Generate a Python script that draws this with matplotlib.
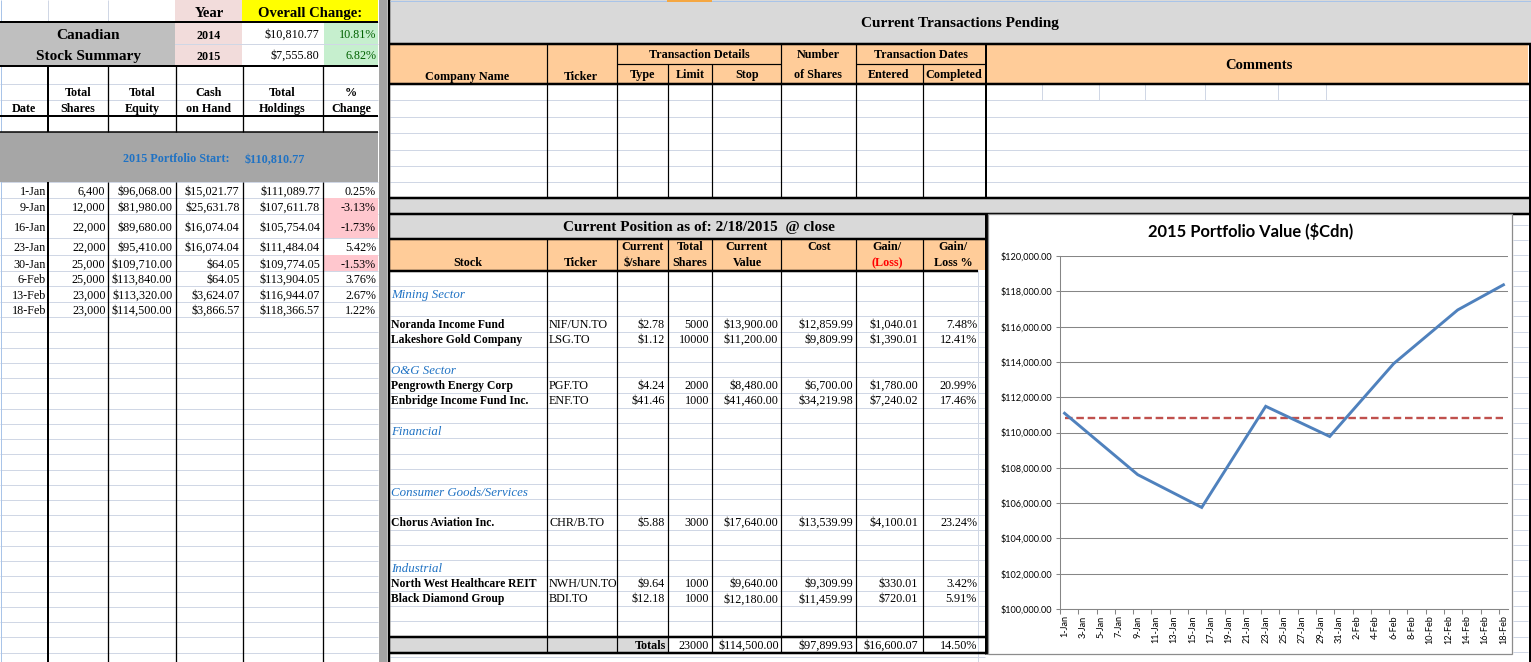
import numpy as np
import pandas as pd
import matplotlib
matplotlib.use('Agg')
import matplotlib.pyplot as plt
import matplotlib.dates as mdates
from matplotlib.patches import Rectangle
from matplotlib.ticker import FuncFormatter, FixedLocator

# ---------------- data ----------------
years = ['2014', '2015']
overall_change = [10810.77, 7555.80]
overall_pct = [10.81, 6.82]
portfolio_start = 110810.77

dates = ['1-Jan', '9-Jan', '16-Jan', '23-Jan', '30-Jan', '6-Feb', '13-Feb', '18-Feb']
total_shares = [6400, 12000, 22000, 22000, 25000, 25000, 23000, 23000]
total_equity = [96068.00, 81980.00, 89680.00, 95410.00, 109710.00, 113840.00, 113320.00, 114500.00]
cash_on_hand = [15021.77, 25631.78, 16074.04, 16074.04, 64.05, 64.05, 3624.07, 3866.57]
total_holdings = [111089.77, 107611.78, 105754.04, 111484.04, 109774.05, 113904.05, 116944.07, 118366.57]
pct_change = [0.25, -3.13, -1.73, 5.42, -1.53, 3.76, 2.67, 1.22]

sectors = ['Mining Sector', 'O&G Sector', 'Financial', 'Consumer Goods/Services', 'Industrial']
sector_rows = [1, 6, 10, 14, 19]
stocks = ['Noranda Income Fund', 'Lakeshore Gold Company', 'Pengrowth Energy Corp',
          'Enbridge Income Fund Inc.', 'Chorus Aviation Inc.', 'North West Healthcare REIT',
          'Black Diamond Group']
stock_rows = [3, 4, 7, 8, 16, 20, 21]
tickers = ['NIF/UN.TO', 'LSG.TO', 'PGF.TO', 'ENF.TO', 'CHR/B.TO', 'NWH/UN.TO', 'BDI.TO']
price = [2.78, 1.12, 4.24, 41.46, 5.88, 9.64, 12.18]
shares = [5000, 10000, 2000, 1000, 3000, 1000, 1000]
value = [13900.00, 11200.00, 8480.00, 41460.00, 17640.00, 9640.00, 12180.00]
cost = [12859.99, 9809.99, 6700.00, 34219.98, 13539.99, 9309.99, 11459.99]
gain = [1040.01, 1390.01, 1780.00, 7240.02, 4100.01, 330.01, 720.01]
gain_pct = [7.48, 12.41, 20.99, 17.46, 23.24, 3.42, 5.91]
totals = ['23000', '$114,500.00', '$97,899.93', '$16,600.07', '14.50%']

tick_labels = ['1-Jan', '3-Jan', '5-Jan', '7-Jan', '9-Jan', '11-Jan', '13-Jan', '15-Jan',
               '17-Jan', '19-Jan', '21-Jan', '23-Jan', '25-Jan', '27-Jan', '29-Jan', '31-Jan',
               '2-Feb', '4-Feb', '6-Feb', '8-Feb', '10-Feb', '12-Feb', '14-Feb', '16-Feb', '18-Feb']

SERIF = 'Liberation Serif'
W, H = 1531, 662
GRID = '#d0d7e5'
ORANGE = '#ffcc99'
LGRAY = '#d9d9d9'
BLUE = '#1f72c4'


def money(v):
    return f'${v:,.2f}'


fig = plt.figure(figsize=(W / 100, H / 100), dpi=100)
ax = fig.add_axes([0, 0, 1, 1])
ax.set_xlim(0, W)
ax.set_ylim(H, 0)
ax.axis('off')


def rect(x0, y0, x1, y1, c, z=2):
    ax.add_patch(Rectangle((x0, y0), x1 - x0, y1 - y0, facecolor=c, edgecolor='none', zorder=z))


def hl(y, x0, x1, px=1, c='black', z=3):
    ax.plot([x0, x1], [y, y], color=c, lw=px * 0.72, zorder=z, solid_capstyle='butt')


def vl(x, y0, y1, px=1, c='black', z=3):
    ax.plot([x, x], [y0, y1], color=c, lw=px * 0.72, zorder=z, solid_capstyle='butt')


def txt(x, y, s, size=8.7, ha='left', bold=False, italic=False, c='black', fam=SERIF):
    ax.text(x, y + 0.46 * size, s, fontsize=size, ha=ha, va='baseline',
            fontweight='bold' if bold else 'normal',
            fontstyle='italic' if italic else 'normal',
            color=c, family=fam, zorder=5)


# ================= LEFT PANEL =================
left_rows = [182, 198, 214, 238, 255, 271, 286, 302, 317]
lg = [22, 44, 66, 84, 100, 116, 132] + left_rows + list(np.arange(317 + 15.25, H, 15.25))
for y in lg:
    hl(y, 0, 378, 1, GRID, 1)
for x in [48, 108]:
    vl(x, 0, 22, 1, GRID, 1)
vl(0.5, 0, H, 1, '#a9c4e8', 1)

rect(175, 0, 242, 22, '#f2dcdb')
rect(242, 0, 378, 22, '#ffff00')
rect(0, 22, 175, 66, '#bfbfbf')
rect(175, 22, 242, 43.5, '#f2dcdb')
rect(175, 44.5, 242, 66, '#f2dcdb')
rect(323.5, 22, 378, 43.5, '#c6efce')
rect(323.5, 44.5, 378, 66, '#c6efce')
rect(0, 132, 378, 182, '#a6a6a6')
for i, p in enumerate(pct_change):
    if p < 0:
        rect(323.5, left_rows[i], 378, left_rows[i + 1], '#ffc7ce')

for y in [22, 66, 116]:
    hl(y, 0, 378, 2)
hl(132, 0, 378, 1.5)
for x, w in [(48, 2), (108, 1.3), (175.5, 1.3), (242.5, 1.3), (323, 1.3)]:
    vl(x, 66, 132, w)
    vl(x, 182, H, w)
rect(379, 0, 387, H, '#a5a5a5', 3)
vl(388.5, 0, H, 2.5)

txt(209, 12, 'Year', 10.5, 'center', True)
txt(310, 12, 'Overall Change:', 10.5, 'center', True)
txt(88, 34, 'Canadian', 11, 'center', True)
txt(88, 55, 'Stock Summary', 11, 'center', True)
for i, yy in enumerate([34, 55]):
    txt(209, yy + 1, years[i], 8.7, 'center', True)
    txt(319, yy, money(overall_change[i]), 8.7, 'right')
    txt(376, yy, f'{overall_pct[i]:.2f}%', 8.7, 'right', c='#006100')

txt(24, 108, 'Date', 8.7, 'center', True)
for x, a, b in [(78, 'Total', 'Shares'), (142, 'Total', 'Equity'), (209, 'Cash', 'on Hand'),
                (282, 'Total', 'Holdings'), (351, '%', 'Change')]:
    txt(x, 92, a, 8.7, 'center', True)
    txt(x, 108, b, 8.7, 'center', True)
txt(176, 158, '2015 Portfolio Start:', 8.7, 'center', True, c=BLUE)
txt(275, 159, money(portfolio_start), 8.7, 'center', True, c=BLUE)

for i in range(len(dates)):
    y = (left_rows[i] + left_rows[i + 1]) / 2 + 0.5
    txt(46, y, dates[i], 8.7, 'right')
    txt(105.5, y, f'{total_shares[i]:,}', 8.7, 'right')
    txt(172.5, y, money(total_equity[i]), 8.7, 'right')
    txt(239.5, y, money(cash_on_hand[i]), 8.7, 'right')
    txt(320, y, money(total_holdings[i]), 8.7, 'right')
    txt(376, y, f'{pct_change[i]:.2f}%', 8.7, 'right')

# ================= MIDDLE TOP: transactions pending =================
rect(390, 0, W, 43, LGRAY)
hl(0.5, 390, W, 1, '#a9c4e8', 3)
rect(667, 0, 712, 2, '#f5a742', 3)
txt(960, 22, 'Current Transactions Pending', 11, 'center', True)
hl(43.5, 389, W, 2.5)
rect(390, 44, 1528, 83, ORANGE)
hl(83.5, 389, W, 2.5)
for y in [100, 117, 133, 150, 166, 182]:
    hl(y, 390, 1528, 1, GRID, 1)
for x in [1042, 1099, 1145, 1205, 1278, 1326]:
    vl(x, 84, 100, 1, GRID, 1)
for x in [546.5, 617, 781, 856]:
    vl(x, 44, 197, 1.2)
vl(986, 44, 197, 2)
for x in [668, 712, 923]:
    vl(x, 64, 197, 1.2)
hl(64, 617, 781, 1.2)
hl(64, 856, 986, 1.2)
vl(1529.5, 43, H, 3)

txt(467, 76, 'Company Name', 8.7, 'center', True)
txt(581, 76, 'Ticker', 8.7, 'center', True)
txt(699, 54, 'Transaction Details', 8.7, 'center', True)
txt(642, 74, 'Type', 8.7, 'center', True)
txt(690, 74, 'Limit', 8.7, 'center', True)
txt(747, 74, 'Stop', 8.7, 'center', True)
txt(818, 54, 'Number', 8.7, 'center', True)
txt(818, 74, 'of Shares', 8.7, 'center', True)
txt(921, 54, 'Transaction Dates', 8.7, 'center', True)
txt(889, 74, 'Entered', 8.7, 'center', True)
txt(954, 74, 'Completed', 8.7, 'center', True)
txt(1259, 64, 'Comments', 10.5, 'center', True)

hl(197.5, 389, W, 2.5)
rect(390, 198.5, W, 212.5, LGRAY)
hl(213.5, 389, W, 2.5)

# ================= MIDDLE BOTTOM: current position =================
rect(390, 214, 985, 238, LGRAY)
txt(699, 226, 'Current Position as of: 2/18/2015  @ close', 11, 'center', True)
hl(238.5, 389, 986, 2.5)
rect(390, 239, 985, 270, ORANGE)
hl(270.5, 389, 978, 2.5)
row0, rh = 270.5, 15.25
for k in range(1, 24):
    hl(row0 + k * rh, 390, 985, 1, GRID, 1)
hl(657, 390, 985, 1, GRID, 1)
vl(978, 270, H, 1, GRID, 1)
pos_cols = [547, 617, 668, 712, 781, 856, 923]
for x in pos_cols:
    vl(x, 238, 653, 1.2)
rect(390, 637, 668, 652, LGRAY)
hl(637, 389, 986, 2.5)
hl(653, 389, 986, 2.5)
vl(986, 213, 654, 3)

txt(468, 262, 'Stock', 8.7, 'center', True)
txt(581, 262, 'Ticker', 8.7, 'center', True)
txt(642, 246, 'Current', 8.7, 'center', True)
txt(642, 262, '$/share', 8.7, 'center', True)
txt(690, 246, 'Total', 8.7, 'center', True)
txt(690, 262, 'Shares', 8.7, 'center', True)
txt(747, 246, 'Current', 8.7, 'center', True)
txt(747, 262, 'Value', 8.7, 'center', True)
txt(819, 246, 'Cost', 8.7, 'center', True)
txt(887, 246, 'Gain/', 8.7, 'center', True)
txt(887, 262, '(Loss)', 8.7, 'center', True, c='#ff0000')
txt(953, 246, 'Gain/', 8.7, 'center', True)
txt(953, 262, 'Loss %', 8.7, 'center', True)

for s, r in zip(sectors, sector_rows):
    txt(391, row0 + (r + 0.5) * rh, s, 9.3, italic=True, c=BLUE)
for i, r in enumerate(stock_rows):
    y = row0 + (r + 0.5) * rh
    txt(391, y, stocks[i], 8.4, bold=True)
    txt(549, y, tickers[i], 8.7)
    txt(665, y, money(price[i]), 8.7, 'right')
    txt(709, y, f'{shares[i]}', 8.7, 'right')
    txt(778, y, money(value[i]), 8.7, 'right')
    txt(853, y, money(cost[i]), 8.7, 'right')
    txt(918, y, money(gain[i]), 8.7, 'right')
    txt(977, y, f'{gain_pct[i]:.2f}%', 8.7, 'right')
yt = 645
txt(666, yt, 'Totals', 8.7, 'right', True)
for x, s in zip([709, 779, 853, 918, 977], totals):
    txt(x, yt, s, 8.7, 'right')

# ================= CHART =================
for k in range(-3, 26):
    hl(row0 + k * rh, 1513, 1528, 1, GRID, 1)
ax.add_patch(Rectangle((988, 214), 1512 - 988, 654 - 214, facecolor='white',
                       edgecolor='#8c8c8c', lw=0.9, zorder=4))
txt(1251, 232, '2015 Portfolio Value ($Cdn)', 11.9, 'center', True, fam='Lato')

x_dates = pd.to_datetime([d + '-2015' for d in dates], format='%d-%b-%Y')
xn = mdates.date2num(x_dates)

cax = fig.add_axes([1060 / W, (H - 609) / H, (1508 - 1060) / W, (609 - 256) / H])
cax.set_zorder(10)
cax.patch.set_alpha(0)
cax.plot(xn, total_holdings, color='#4f81bd', lw=2.1, solid_joinstyle='miter', zorder=4)
cax.plot([xn[0], xn[-1]], [portfolio_start, portfolio_start], color='#c0504d', lw=1.7,
         linestyle=(0, (3.2, 1.6)), zorder=3)
cax.set_xlim(xn[0] - 0.5, xn[-1] + 0.5)
cax.set_ylim(100000, 120000)
cax.set_yticks(np.arange(100000, 120001, 2000))
cax.yaxis.set_major_formatter(FuncFormatter(lambda v, p: money(v)))
cax.grid(axis='y', color='#868686', lw=0.75)
cax.set_axisbelow(True)
for s in ['top', 'right']:
    cax.spines[s].set_visible(False)
for s in ['left', 'bottom']:
    cax.spines[s].set_color('#868686')
    cax.spines[s].set_linewidth(0.75)
cax.xaxis.set_major_locator(FixedLocator(np.arange(xn[0] - 0.5, xn[-1], 2)))
cax.xaxis.set_major_formatter(FuncFormatter(lambda v, p: ''))
cax.xaxis.set_minor_locator(FixedLocator(np.arange(xn[0], xn[-1] + 0.1, 2)))
cax.set_xticklabels(tick_labels, minor=True, rotation=90)
cax.tick_params(axis='x', which='major', length=3.5, width=0.75, color='#868686', direction='out')
cax.tick_params(axis='x', which='minor', length=0, pad=4.5, labelsize=6.6)
cax.tick_params(axis='y', length=3, width=0.75, color='#868686', pad=2.5, labelsize=6.6)
for lab in cax.get_xticklabels(minor=True) + cax.get_yticklabels():
    lab.set_family('Lato')

fig.savefig('out.png', dpi=100)
